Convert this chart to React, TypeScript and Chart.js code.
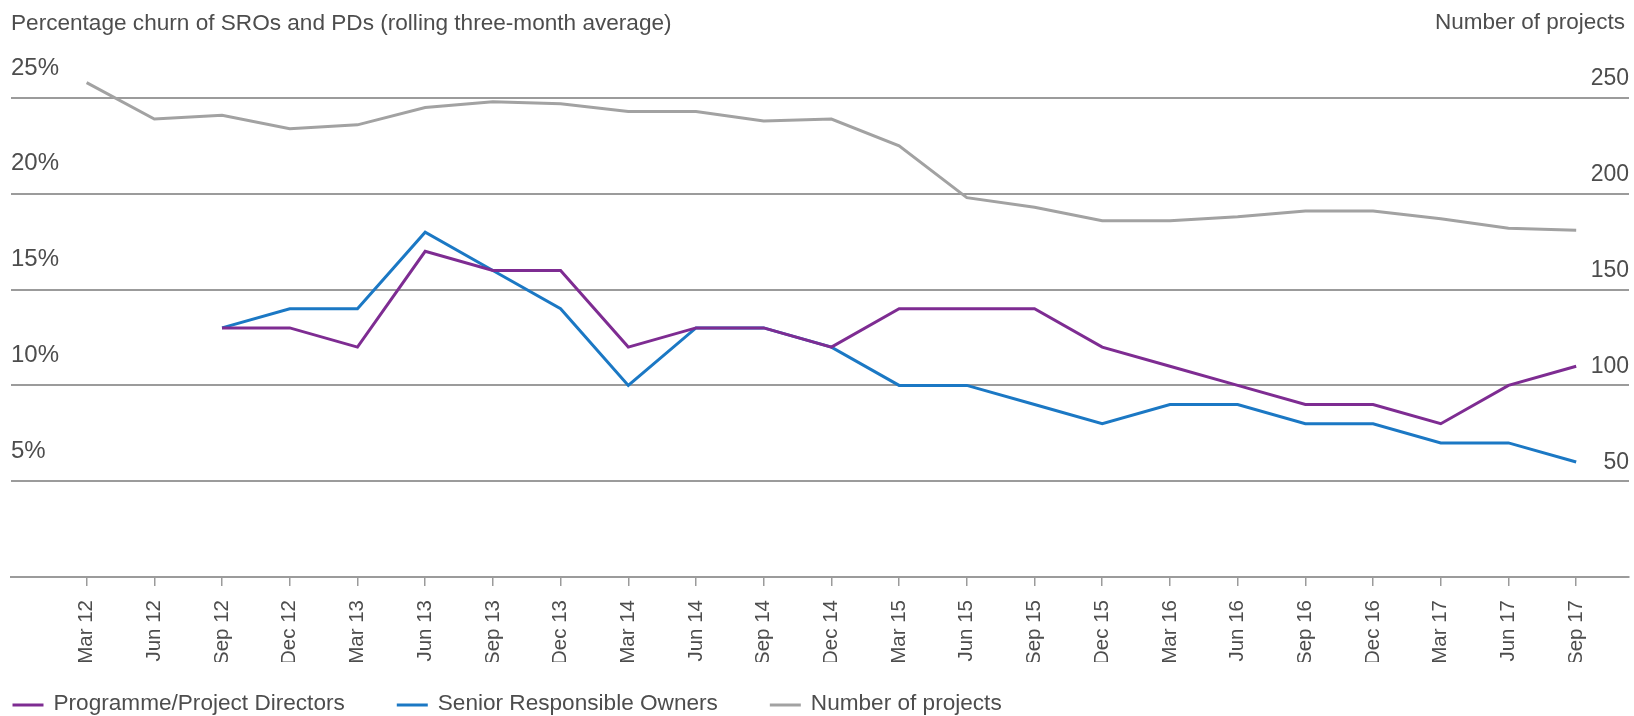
import React, { useEffect, useRef } from "react";
import { Chart, registerables } from "chart.js";

Chart.register(...registerables);

const categories = [
  "Mar 12", "Jun 12", "Sep 12", "Dec 12", "Mar 13", "Jun 13", "Sep 13", "Dec 13",
  "Mar 14", "Jun 14", "Sep 14", "Dec 14", "Mar 15", "Jun 15", "Sep 15", "Dec 15",
  "Mar 16", "Jun 16", "Sep 16", "Dec 16", "Mar 17", "Jun 17", "Sep 17",
];

const pdChurn = [null, null, 13, 13, 12, 17, 16, 16, 12, 13, 13, 12, 14, 14, 14, 12, 11, 10, 9, 9, 8, 10, 11];
const sroChurn = [null, null, 13, 14, 14, 18, 16, 14, 10, 13, 13, 12, 10, 10, 9, 8, 9, 9, 8, 8, 7, 7, 6];
const projectCount = [258, 239, 241, 234, 236, 245, 248, 247, 243, 243, 238, 239, 225, 198, 193, 186, 186, 188, 191, 191, 187, 182, 181];

const leftTicks = [5, 10, 15, 20, 25];
const rightTicks = [50, 100, 150, 200, 250];

const seriesNames = ["Programme/Project Directors", "Senior Responsible Owners", "Number of projects"];
const leftTitle = "Percentage churn of SROs and PDs (rolling three-month average)";
const rightTitle = "Number of projects";

const FONT = '"Liberation Sans", Arial, Helvetica, sans-serif';
const TEXT = "#4d4d4d";
const GRID = "#9b9b9b";
const PURPLE = "#7e2c92";
const BLUE = "#1b78c4";
const GREY = "#a2a2a2";

const toPoints = (arr: (number | null)[]) => arr.map((v, i) => ({ x: i, y: v }));

const extrasPlugin = {
  id: "extras",
  afterDraw(chart: any) {
    const ctx = chart.ctx;
    ctx.save();
    // right axis title
    ctx.font = `22.5px ${FONT}`;
    ctx.fillStyle = TEXT;
    ctx.textBaseline = "middle";
    ctx.textAlign = "right";
    ctx.fillText(rightTitle, chart.chartArea.right - 4, 23);
    // legend
    ctx.font = `22.6px ${FONT}`;
    ctx.textAlign = "left";
    let x = 12.5;
    const y = 704;
    chart.data.datasets.forEach((ds: any) => {
      ctx.strokeStyle = ds.borderColor;
      ctx.lineWidth = 3;
      ctx.beginPath();
      ctx.moveTo(x, y + 1);
      ctx.lineTo(x + 31, y + 1);
      ctx.stroke();
      x += 31 + 10;
      ctx.fillStyle = TEXT;
      ctx.fillText(ds.label, x, y);
      x += ctx.measureText(ds.label).width + 52;
    });
    ctx.restore();
  },
};

export default function App() {
  const ref = useRef<HTMLCanvasElement | null>(null);

  useEffect(() => {
    if (!ref.current) return;
    Chart.defaults.font.family = FONT;
    const chart = new Chart(ref.current, {
      type: "line",
      data: {
        labels: categories,
        datasets: [
          {
            label: seriesNames[0],
            data: toPoints(pdChurn) as any,
            borderColor: PURPLE,
            backgroundColor: PURPLE,
            borderWidth: 3,
            pointRadius: 0,
            tension: 0,
            yAxisID: "y",
          },
          {
            label: seriesNames[1],
            data: toPoints(sroChurn) as any,
            borderColor: BLUE,
            backgroundColor: BLUE,
            borderWidth: 3,
            pointRadius: 0,
            tension: 0,
            yAxisID: "y",
          },
          {
            label: seriesNames[2],
            data: toPoints(projectCount) as any,
            borderColor: GREY,
            backgroundColor: GREY,
            borderWidth: 3,
            pointRadius: 0,
            tension: 0,
            yAxisID: "y1",
          },
        ],
      },
      options: {
        animation: false,
        responsive: true,
        maintainAspectRatio: false,
        layout: { padding: { left: 11, right: 5, top: 0, bottom: 54 } },
        plugins: {
          legend: { display: false },
          tooltip: { enabled: false },
          title: {
            display: true,
            text: leftTitle,
            align: "start",
            color: TEXT,
            font: { size: 22.6, weight: "normal", family: FONT },
            padding: { top: 10, bottom: 13 },
          },
        },
        scales: {
          x: {
            type: "linear",
            min: -1.117,
            max: 22.78,
            afterBuildTicks: (scale: any) => {
              scale.ticks = categories.map((_, i) => ({ value: i }));
            },
            afterFit: (scale: any) => {
              scale.height = 85;
            },
            ticks: {
              autoSkip: false,
              minRotation: 90,
              maxRotation: 90,
              padding: 14,
              color: TEXT,
              font: { size: 20.5, family: FONT },
              callback: (v: any) => categories[Math.round(Number(v))] ?? "",
            },
            grid: {
              drawOnChartArea: false,
              drawTicks: true,
              tickLength: 9,
              color: GRID,
              lineWidth: 1.5,
            },
            border: { display: true, color: GRID, width: 2 },
          },
          y: {
            type: "linear",
            position: "left",
            min: 0,
            max: 27.5,
            afterBuildTicks: (scale: any) => {
              scale.ticks = leftTicks.map((v) => ({ value: v }));
            },
            ticks: {
              mirror: true,
              padding: 0,
              labelOffset: -30,
              color: TEXT,
              font: { size: 24, family: FONT },
              callback: (v: any) => `${v}%`,
            },
            grid: { color: GRID, lineWidth: 2, drawTicks: false },
            border: { display: false },
          },
          y1: {
            type: "linear",
            position: "right",
            min: 0,
            max: 275,
            afterBuildTicks: (scale: any) => {
              scale.ticks = rightTicks.map((v) => ({ value: v }));
            },
            ticks: {
              mirror: true,
              padding: 0,
              labelOffset: -19,
              color: TEXT,
              font: { size: 23, family: FONT },
              callback: (v: any) => `${v}`,
            },
            grid: { display: false, drawOnChartArea: false, drawTicks: false },
            border: { display: false },
          },
        },
      },
      plugins: [extrasPlugin],
    });
    return () => chart.destroy();
  }, []);

  return (
    <div style={{ position: "fixed", left: 0, top: 0, width: 1634, height: 716 }}>
      <canvas ref={ref} />
    </div>
  );
}
